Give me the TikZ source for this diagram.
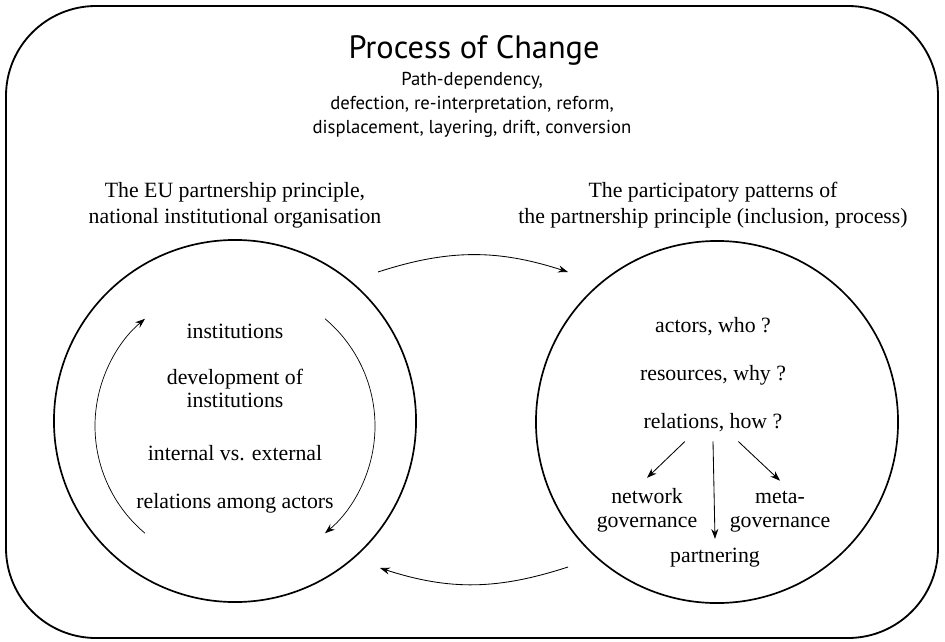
\documentclass[tikz,border=0pt]{standalone}
\usepackage{fontspec}
\setmainfont{Liberation Serif}
\newfontfamily\headfont{PT Sans}
\usetikzlibrary{arrows.meta}

\tikzset{
  >={Stealth[length=7pt,width=5pt]},
  ring/.style={draw, circle, line width=1.2pt, minimum size=9.05cm, inner sep=0pt},
  txt/.style={align=center, inner sep=0pt, anchor=base, font=\fontsize{15.5}{16}\selectfont},
  head/.style={align=center, inner sep=0pt, anchor=base, font=\fontsize{15.5}{18.4}\selectfont},
  flow/.style={->, line width=0.6pt},
}

\begin{document}
\begin{tikzpicture}[x=0.025cm, y=0.025cm]
\useasboundingbox (0,0) rectangle (945,641);

% Outer frame
\draw[line width=1.3pt, rounded corners=2.25cm] (6,3) rectangle (938,635);

% Title and mechanisms (base = last line)
\node[inner sep=0pt, anchor=base, font=\headfont\fontsize{23}{28}\selectfont] (title) at (474,582) {Process of Change};
\node[inner sep=0pt, anchor=base, align=center, font=\headfont\fontsize{13.3}{17}\selectfont] (mech) at (472,508)
  {Path-dependency,\\ defection, re-interpretation, reform,\\ displacement, layering, drift, conversion};

% Headings
\node[head] (lhead) at (235,418) {The EU partnership principle,\\ national institutional organisation};
\node[head] (rhead) at (713,418) {The participatory patterns of\\ the partnership principle (inclusion, process)};

% Circles
\node[ring] (lc) at (235,220) {};
\node[ring] (rc) at (717,219) {};

% Left circle
\node[txt] (inst) at (235,303) {institutions};
\node[txt] (dev) at (235,234) {development of\\ institutions};
\node[txt] (intext) at (235,181) {internal vs. external};
\node[txt] (rel) at (235,133) {relations among actors};

\coordinate (lo) at (235,215);
\draw[flow, line width=0.5pt] ([shift={(230:140)}]lo) arc (230:130:140);
\draw[flow, line width=0.5pt] ([shift={(50:140)}]lo) arc (50:-50:140);

% Right circle
\node[txt] (act) at (713,309) {actors, who ?};
\node[txt] (res) at (713,261) {resources, why ?};
\node[txt] (how) at (713,213) {relations, how ?};
\node[txt, font=\fontsize{15.5}{17}\selectfont] (net) at (647,114) {network\\ governance};
\node[txt, font=\fontsize{15.5}{17}\selectfont] (meta) at (780,114) {meta-\\ governance};
\node[txt] (part) at (715,79) {partnering};

\draw[flow] ([shift={(-20pt,-7pt)}]how.south) -- ([yshift=7pt]net.north);
\draw[flow] ([yshift=-7pt]how.south) -- ([yshift=6pt]part.north);
\draw[flow] ([shift={(18pt,-7pt)}]how.south) -- ([yshift=7pt]meta.north);

% Between the circles
\coordinate (a1) at ([shift={(143,149)}]lc.center);
\coordinate (a2) at ([shift={(-149,150)}]rc.center);
\coordinate (b1) at ([shift={(-149,-145)}]rc.center);
\coordinate (b2) at ([shift={(145,-147)}]lc.center);
\draw[flow] (a1) to[out=18, in=162] (a2);
\draw[flow] (b1) to[out=198, in=-18] (b2);

\end{tikzpicture}
\end{document}
